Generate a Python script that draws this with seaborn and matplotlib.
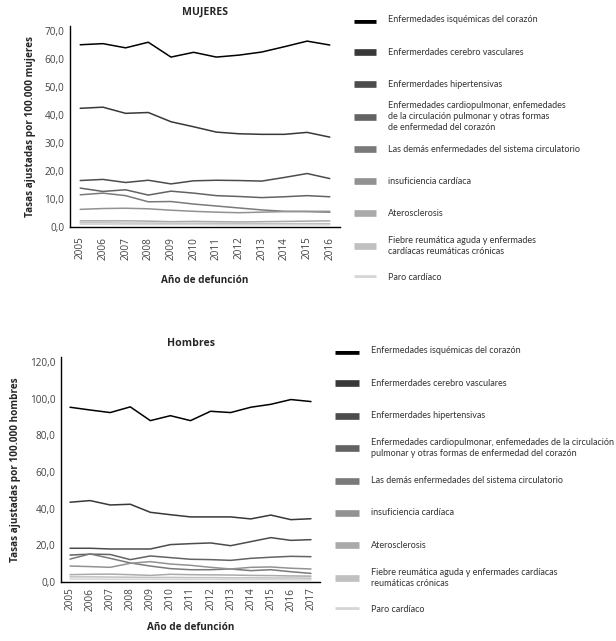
import matplotlib
matplotlib.use("Agg")
import matplotlib.pyplot as plt
import seaborn as sns
import pandas as pd

causes = [
    "Enfermedades isquémicas del corazón",
    "Enfermerdades cerebro vasculares",
    "Enfermerdades hipertensivas",
    "Enfermedades cardiopulmonar",
    "Las demás enfermedades del sistema circulatorio",
    "insuficiencia cardíaca",
    "Aterosclerosis",
    "Fiebre reumática aguda",
    "Paro cardíaco",
]

labels_m = [
    "Enfermedades isquémicas del corazón",
    "Enfermerdades cerebro vasculares",
    "Enfermerdades hipertensivas",
    "Enfermedades cardiopulmonar, enfemedades\nde la circulación pulmonar y otras formas\nde enfermedad del corazón",
    "Las demás enfermedades del sistema circulatorio",
    "insuficiencia cardíaca",
    "Aterosclerosis",
    "Fiebre reumática aguda y enfermades\ncardíacas reumáticas crónicas",
    "Paro cardíaco",
]
labels_h = [
    "Enfermedades isquémicas del corazón",
    "Enfermerdades cerebro vasculares",
    "Enfermerdades hipertensivas",
    "Enfermedades cardiopulmonar, enfemedades de la circulación\npulmonar y otras formas de enfermedad del corazón",
    "Las demás enfermedades del sistema circulatorio",
    "insuficiencia cardíaca",
    "Aterosclerosis",
    "Fiebre reumática aguda y enfermades cardíacas\nreumáticas crónicas",
    "Paro cardíaco",
]

grays = ["#000000", "#383838", "#4c4c4c", "#636363", "#7a7a7a",
         "#929292", "#aaaaaa", "#c0c0c0", "#d6d6d6"]

years_m = list(range(2005, 2017))
mujeres = [
    [65.1, 65.5, 64.0, 66.0, 60.7, 62.4, 60.7, 61.4, 62.5, 64.4, 66.4, 65.0],
    [42.4, 42.8, 40.6, 40.9, 37.6, 35.8, 33.9, 33.3, 33.1, 33.1, 33.8, 32.1],
    [16.6, 17.0, 15.9, 16.7, 15.4, 16.5, 16.7, 16.6, 16.4, 17.7, 19.1, 17.3],
    [13.9, 12.7, 13.3, 11.4, 12.8, 12.1, 11.2, 10.9, 10.5, 10.8, 11.2, 10.8],
    [11.5, 12.1, 11.2, 9.0, 9.1, 8.2, 7.5, 6.8, 6.1, 5.6, 5.5, 5.3],
    [6.3, 6.6, 6.7, 6.5, 6.0, 5.6, 5.3, 5.1, 5.3, 5.5, 5.6, 5.6],
    [2.2, 2.2, 2.2, 2.1, 1.9, 2.0, 1.9, 1.8, 1.9, 2.0, 2.1, 2.2],
    [1.5, 1.5, 1.4, 1.4, 1.3, 1.3, 1.3, 1.2, 1.2, 1.2, 1.2, 1.2],
    [1.0, 1.0, 0.9, 0.9, 0.9, 0.9, 0.8, 0.8, 0.8, 0.8, 0.8, 0.8],
]

years_h = list(range(2005, 2018))
hombres = [
    [95.3, 93.8, 92.4, 95.5, 88.0, 90.7, 88.0, 93.1, 92.4, 95.3, 96.9, 99.5, 98.4],
    [43.5, 44.4, 42.0, 42.4, 38.0, 36.7, 35.5, 35.5, 35.5, 34.4, 36.5, 34.0, 34.5],
    [18.4, 18.4, 18.0, 18.0, 18.0, 20.4, 20.9, 21.3, 19.8, 22.0, 24.2, 22.7, 23.1],
    [14.7, 15.2, 15.0, 12.2, 14.2, 13.3, 12.4, 12.2, 11.8, 12.9, 13.5, 14.0, 13.8],
    [12.5, 15.3, 12.9, 10.4, 8.7, 7.3, 6.7, 6.7, 7.1, 6.2, 6.7, 5.6, 4.7],
    [8.7, 8.4, 8.0, 10.2, 11.1, 9.8, 9.1, 8.0, 7.1, 8.0, 8.2, 7.5, 7.1],
    [4.0, 4.2, 4.3, 4.0, 3.6, 4.2, 4.0, 3.9, 3.8, 3.6, 3.5, 3.3, 3.2],
    [2.8, 2.8, 2.7, 2.6, 2.5, 2.5, 2.4, 2.4, 2.3, 2.3, 2.2, 2.2, 2.1],
    [1.6, 1.6, 1.5, 1.5, 1.5, 1.4, 1.4, 1.4, 1.3, 1.3, 1.3, 1.2, 1.2],
]

sns.set_style("white")
plt.rcParams["font.family"] = ["Open Sans", "DejaVu Sans"]

W, H = 616, 641
fig = plt.figure(figsize=(W / 100, H / 100), dpi=100)


def box(l, t, r, b):
    # pixel box -> figure fraction
    return [l / W, 1 - b / H, (r - l) / W, (b - t) / H]


def to_long(years, values):
    rows = []
    for c, vals in zip(causes, values):
        for y, v in zip(years, vals):
            rows.append({"year": y, "causa": c, "tasa": v})
    return pd.DataFrame(rows)


def panel(ax, years, values, ymax, ystep, ytop, title, ylabel, xpad, tpad):
    df = to_long(years, values)
    sns.lineplot(data=df, x="year", y="tasa", hue="causa", hue_order=causes,
                 palette=grays, linewidth=1.1, legend=False, ax=ax)
    ax.set_xlim(years[0] - 0.45, years[-1] + 0.45)
    ax.set_ylim(0, ytop)
    n = int(ymax / ystep) + 1
    ax.set_yticks([v * ystep for v in range(n)])
    ax.set_yticklabels([f"{v * ystep:.1f}".replace(".", ",") for v in range(n)])
    ax.set_xticks(years)
    ax.set_xticklabels([str(y) for y in years], rotation=90)
    ax.tick_params(axis="y", length=0, labelsize=7.2, colors="#444444", pad=4)
    ax.tick_params(axis="x", length=0, labelsize=7.2, colors="#444444", pad=tpad)
    sns.despine(ax=ax)
    for s in ["left", "bottom"]:
        ax.spines[s].set_color("black")
        ax.spines[s].set_linewidth(1.0)
    ax.set_xlabel("Año de defunción", fontsize=7.2, fontweight="bold", labelpad=xpad)
    ax.set_ylabel(ylabel, fontsize=7.2, fontweight="bold", labelpad=6)
    ax.set_title(title, fontsize=7.6, fontweight="bold", pad=8)


def legend_block(ax, labels, n):
    ax.set_xlim(0, 262)
    ax.set_ylim(n - 1, 0)
    ax.axis("off")
    for i, (lab, col) in enumerate(zip(labels, grays)):
        ax.plot([0, 22], [i, i], color=col, linewidth=4.8, solid_capstyle="butt")
        ax.text(34, i, lab, va="center", ha="left", fontsize=6.5,
                color="#333333", linespacing=1.3, family=["Lato", "DejaVu Sans"])


ax1 = fig.add_axes(box(70, 26, 340, 227))
panel(ax1, years_m, mujeres, 70, 10, 71.8, "MUJERES",
      "Tasas ajustadas por 100.000 mujeres", 11, 7)

ax2 = fig.add_axes(box(61, 357, 320, 582))
panel(ax2, years_h, hombres, 120, 20, 122.7, "Hombres",
      "Tasas ajustadas por 100.000 hombres", 8, 4)

leg1 = fig.add_axes(box(354, 20, 616, 278))
legend_block(leg1, labels_m, 9)
leg2 = fig.add_axes(box(335, 351, 616, 610))
legend_block(leg2, labels_h, 9)

fig.savefig("out.png", dpi=100)
